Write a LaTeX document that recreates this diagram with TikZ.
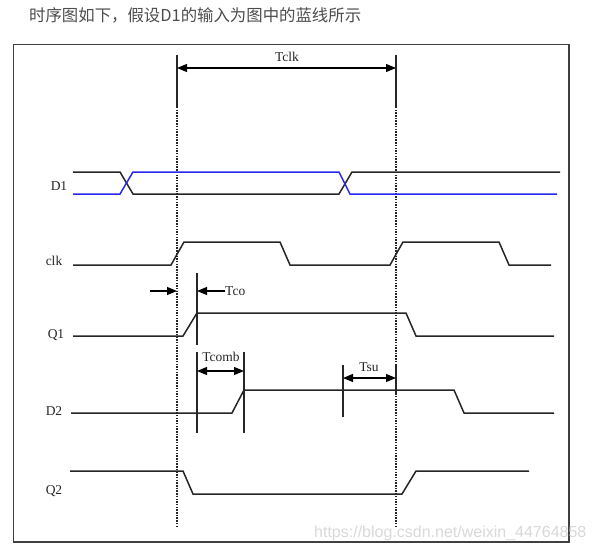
\documentclass[tikz,border=0pt]{standalone}
\usepackage{fontspec}
\setmainfont{Liberation Serif}
\newfontfamily\cjk{Noto Sans CJK SC}
\newfontfamily\wmfont{Liberation Sans}
\usetikzlibrary{arrows.meta}
\definecolor{sigblue}{RGB}{40,40,235}
\definecolor{titlegray}{RGB}{77,77,77}
\begin{document}
\begin{tikzpicture}[x=1pt,y=-1pt,
  sig/.style={line width=1.5pt, black!85},
  bsig/.style={line width=1.5pt, sigblue},
  guide/.style={line width=1.4pt, black!85, dash pattern=on 1.5pt off 1.2pt},
  tickln/.style={line width=1.1pt, black!85},
  dimone/.style={line width=1.1pt, -{Triangle[length=10pt,width=8pt]}},
  dimtwo/.style={line width=1.1pt, {Triangle[length=10pt,width=8pt]}-{Triangle[length=10pt,width=8pt]}},
  lbl/.style={font=\fontsize{13.5}{13.5}\selectfont, inner sep=0pt, text=black!85}
]
\useasboundingbox (0,0) rectangle (595,551);
\fill[white] (0,0) rectangle (595,551);
\node[anchor=west, inner sep=0pt, text=titlegray, font=\cjk\fontsize{16.4}{16.4}\selectfont] (title) at (29,15) {时序图如下，假设D1的输入为图中的蓝线所示};
\draw[line width=1.5pt, black!75] (13.5,44.5) rectangle (569,542);

% signal labels
\node[lbl] (lD1) at (59,186) {D1};
\node[lbl] (lclk) at (54,261) {clk};
\node[lbl] (lQ1) at (56,335) {Q1};
\node[lbl] (lD2) at (54,411) {D2};
\node[lbl] (lQ2) at (54,491) {Q2};

% guides
\coordinate (g1t) at (177,55); \coordinate (g1m) at (177,107); \coordinate (g1b) at (177,527);
\coordinate (g2t) at (396,55); \coordinate (g2m) at (396,107); \coordinate (g2b) at (396,527);
\draw[tickln] (g1t) -- (g1m);
\draw[tickln] (g2t) -- (g2m);
\draw[guide] (g1m) -- (g1b);
\draw[guide] (g2m) -- (g2b);

% Tclk
\coordinate (tca) at (177,68); \coordinate (tcb) at (396,68);
\draw[dimtwo] (tca) -- (tcb);
\node[lbl] (tclk) at (287,57) {Tclk};

% D1
\draw[sig] (73,172) -- (120,172) -- (133,194) -- (339,194) -- (352,172) -- (560,172);
\draw[bsig] (73,194) -- (120,194) -- (133,172) -- (339,172) -- (350,194) -- (557,194);

% clk
\draw[sig] (73,265) -- (171,265) -- (184,242) -- (280,242) -- (290,265) -- (390,265) -- (403,242) -- (499,242) -- (509,265) -- (551,265);

% Q1
\draw[sig] (73,336) -- (183,336) -- (197,313) -- (406,313) -- (416,336) -- (554,336);

% D2
\draw[sig] (71,413) -- (232,413) -- (244,390) -- (454,390) -- (464,413) -- (554,413);

% Q2
\draw[sig] (70,471) -- (183,471) -- (193,494) -- (402,494) -- (416,471) -- (529,471);

% Tco
\coordinate (tcoa) at (150,291); \coordinate (tcob) at (177,291);
\coordinate (tcoc) at (225,291); \coordinate (tcod) at (197,291);
\draw[dimone] (tcoa) -- (tcob);
\draw[dimone] (tcoc) -- (tcod);
\draw[tickln] (197,273) -- (197,345);
\node[lbl, anchor=west] (tco) at (225,291) {Tco};

% Tcomb
\draw[tickln] (197,352) -- (197,433);
\draw[tickln] (244,352) -- (244,433);
\coordinate (tcma) at (197,371); \coordinate (tcmb) at (244,371);
\draw[dimtwo] (tcma) -- (tcmb);
\node[lbl] (tcomb) at (221,357) {Tcomb};

% Tsu
\draw[tickln] (343,365) -- (343,417);
\draw[tickln] (396,365) -- (396,395);
\coordinate (tsua) at (343,378); \coordinate (tsub) at (396,378);
\draw[dimtwo] (tsua) -- (tsub);
\node[lbl] (tsu) at (369,367) {Tsu};

% watermark
\node[anchor=west, inner sep=0pt, text=gray!30, font=\wmfont\fontsize{16}{16}\selectfont] (wm) at (314,533) {https://blog.csdn.net/weixin\_44764858};
\end{tikzpicture}
\end{document}
